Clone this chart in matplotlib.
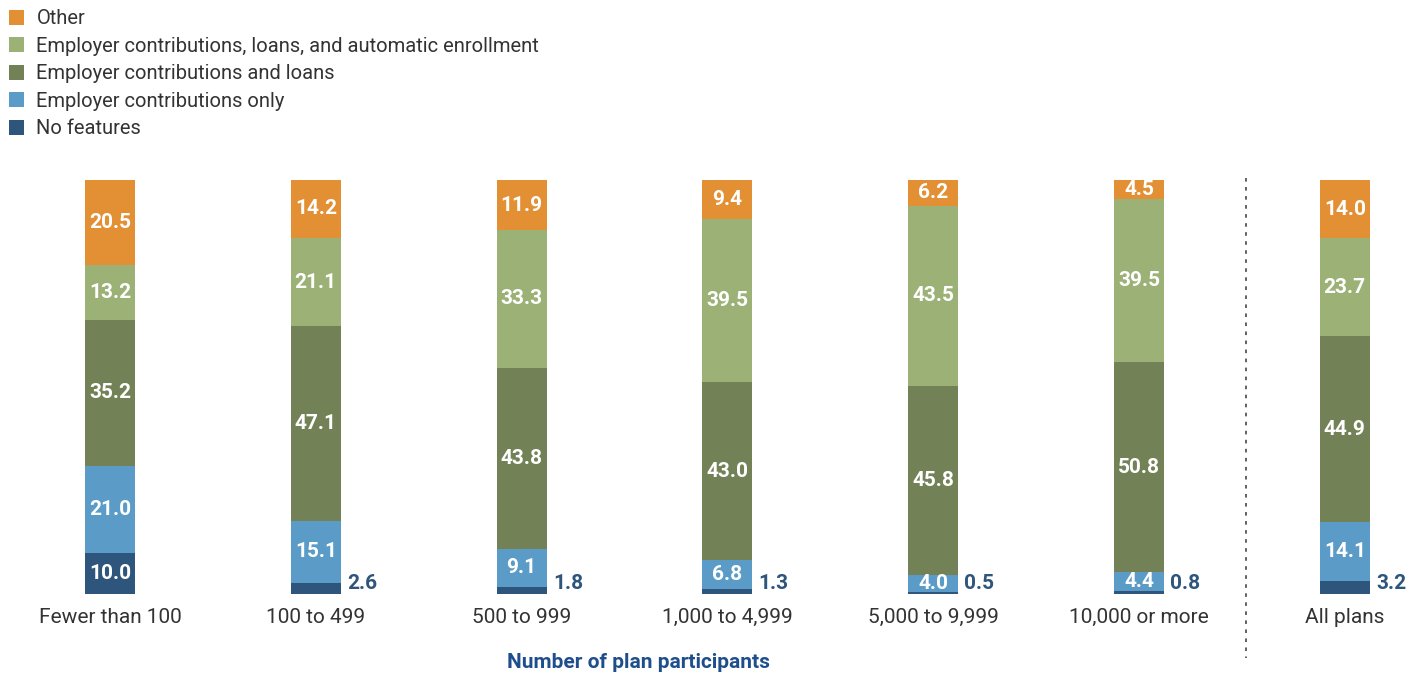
import numpy as np
import matplotlib
matplotlib.use("Agg")
import matplotlib.pyplot as plt
from matplotlib.patches import Patch
import matplotlib.transforms as mtransforms

plt.rcParams['font.family'] = ['Roboto', 'DejaVu Sans']

# categorias y datos (porcentaje de planes)
categorias = ["Fewer than 100", "100 to 499", "500 to 999", "1,000 to 4,999",
              "5,000 to 9,999", "10,000 or more", "All plans"]
sin_funciones = [10.0, 2.6, 1.8, 1.3, 0.5, 0.8, 3.2]
solo_contrib = [21.0, 15.1, 9.1, 6.8, 4.0, 4.4, 14.1]
contrib_prestamos = [35.2, 47.1, 43.8, 43.0, 45.8, 50.8, 44.9]
contrib_prest_auto = [13.2, 21.1, 33.3, 39.5, 43.5, 39.5, 23.7]
otros = [20.5, 14.2, 11.9, 9.4, 6.2, 4.5, 14.0]

series = [
    ("No features", sin_funciones, "#2E557C"),
    ("Employer contributions only", solo_contrib, "#5B9BC8"),
    ("Employer contributions and loans", contrib_prestamos, "#738256"),
    ("Employer contributions, loans, and automatic enrollment", contrib_prest_auto, "#9BB176"),
    ("Other", otros, "#E38F33"),
]

fig = plt.figure(figsize=(14.16, 6.79), dpi=100)
ax = fig.add_axes([0.0, 0.1252, 1.0, 0.6097])

x = np.arange(len(categorias))
ancho = 0.243
base = np.zeros(len(categorias))
for nombre, vals, color in series:
    vals = np.array(vals)
    ax.bar(x, vals, ancho, bottom=base, color=color, label=nombre, linewidth=0)
    for i, v in enumerate(vals):
        if nombre == "No features" and v < 5:
            # etiqueta fuera de la barra, a la derecha
            ax.text(x[i] + ancho / 2 + 0.03, 2.6, f"{v:.1f}", ha='left', va='center',
                    color="#2E557C", fontsize=15, fontweight='bold')
        else:
            ax.text(x[i], base[i] + v / 2, f"{v:.1f}", ha='center', va='center',
                    color='white', fontsize=15, fontweight='bold')
    base += vals

ax.set_xlim(-0.5345, 6.346)
ax.set_ylim(0, 100)
for s in ax.spines.values():
    s.set_visible(False)
ax.set_yticks([])
ax.set_xticks(x)
ax.set_xticklabels(categorias, fontsize=15, color="#333333")
ax.tick_params(axis='x', length=0, pad=10)

# linea separadora punteada
ax.plot([5.52, 5.52], [100.5, -15.5], color="#555555", linestyle=(0, (2, 3)),
        linewidth=1.3, clip_on=False)

# titulo del eje x
trans = mtransforms.blended_transform_factory(ax.transData, fig.transFigure)
ax.text(2.57, 0.025, "Number of plan participants", transform=trans, ha='center',
        va='center', fontsize=15, fontweight='bold', color="#1F4E8C")

# leyenda
handles = [Patch(facecolor=c, label=n) for n, v, c in series][::-1]
fig.legend(handles=handles, loc='upper left', bbox_to_anchor=(-0.002, 1.004),
           frameon=False, fontsize=14.5, handlelength=0.75, handleheight=0.75,
           handletextpad=0.6, labelspacing=0.42, borderaxespad=0.2,
           labelcolor="#333333")

fig.savefig("out.png", dpi=100)
